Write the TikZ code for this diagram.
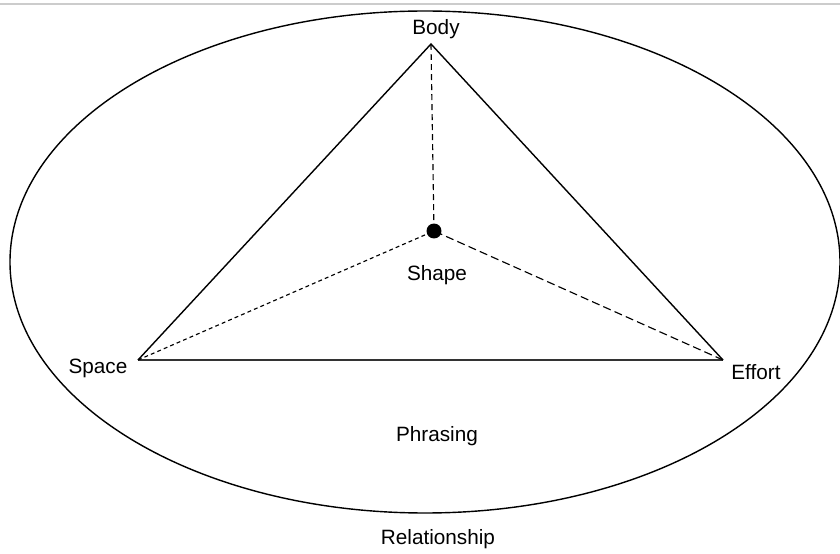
\documentclass[tikz,border=0pt]{standalone}
\usepackage{fontspec}
\setmainfont{Liberation Sans}
\usepackage{xcolor}
\usetikzlibrary{positioning}
\tikzset{
  facetlabel/.style={font=\fontsize{11.8}{13}\selectfont,anchor=base,inner sep=0pt},
  centredot/.style={circle,fill=black,inner sep=0pt,minimum size=0.3cm},
  frameline/.style={line width=0.8pt},
  baseline/.style={line width=1.1pt,draw=black!80},
  spokeline/.style={line width=0.65pt,dash pattern=on 3.4pt off 2.3pt},
  shortspoke/.style={line width=0.65pt,dash pattern=on 2.2pt off 1.8pt},
  longspoke/.style={line width=0.65pt,dash pattern=on 4.6pt off 2.4pt}
}
\begin{document}
\begin{tikzpicture}[x=0.02cm,y=-0.02cm]
  \useasboundingbox (0,0) rectangle (840,554);
  \draw[draw=black!20,line width=0.8pt] (0,4) -- (840,4);
  \draw[frameline] (425,262) ellipse (415 and 251);
  \coordinate (body) at (431,44);
  \coordinate (space) at (138,360);
  \coordinate (effort) at (723,360);
  \node[centredot] (shape) at (434,231) {};
  \draw[frameline] (space) -- (body) -- (effort);
  \draw[baseline] (space) -- (effort);
  \draw[spokeline] (body) -- (shape.center);
  \draw[shortspoke] (space) -- (shape.center);
  \draw[longspoke] (effort) -- (shape.center);
  \node[facetlabel] (bodylabel) at (436,35) {Body};
  \node[facetlabel] (shapelabel) at (437,281) {Shape};
  \node[facetlabel] (spacelabel) at (98,374) {Space};
  \node[facetlabel] (effortlabel) at (756,380) {Effort};
  \node[facetlabel] (phrasinglabel) at (437,441) {Phrasing};
  \node[facetlabel] (relationlabel) at (438,544) {Relationship};
\end{tikzpicture}
\end{document}
